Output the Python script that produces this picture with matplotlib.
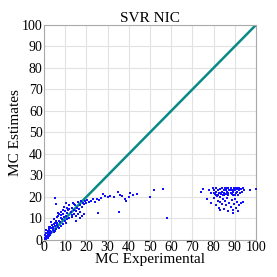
import matplotlib
matplotlib.use("Agg")
import matplotlib.pyplot as plt

# low range: estimates follow experimental values closely
low_x = [0.2, 0.3, 0.5, 0.6, 0.8, 1.0, 1.0, 1.0, 1.2, 1.5, 1.5, 1.8, 2.0, 2.0, 2.0,
         2.3, 2.5, 2.5, 2.8, 3.0, 3.0, 3.0, 3.2, 3.5, 3.5, 3.8, 4.0, 4.0, 4.3, 4.5,
         4.8, 5.0, 5.0, 5.2, 5.5, 5.5, 5.8, 6.0, 6.0, 6.3, 6.5, 6.8, 7.0, 7.0, 7.5,
         7.8, 8.0, 8.0, 8.5, 8.8, 9.0, 9.0, 9.5, 10.0, 10.0, 10.3, 10.5, 11.0, 11.0,
         11.5, 12.0, 12.0, 12.5, 13.0, 13.0, 13.5, 14.0, 14.0, 14.5, 15.0, 15.0,
         15.5, 16.0, 16.0, 16.5, 17.0, 17.0, 17.5, 18.0, 18.0, 18.5, 19.0, 19.0,
         19.5, 20.0, 20.5, 21.0, 22.0, 23.0, 24.0, 25.0, 25.5, 26.0, 27.0, 28.0,
         29.0, 30.0, 31.0, 33.0, 35.0, 35.5, 36.0, 37.0, 38.0, 38.5, 40.0, 40.5,
         42.0, 44.0, 50.0, 52.0, 56.0, 58.0, 0.5, 1.0, 2.5, 3.5, 4.5, 6.5, 9.5,
         12.0, 14.0, 16.0, 11.0, 13.0, 15.0, 17.0, 8.0, 10.5, 5.0, 7.0]
low_y = [0.2, 0.5, 1.0, 0.8, 0.3, 2.0, 0.5, 3.0, 1.5, 3.0, 1.8, 2.2, 1.0, 4.0, 3.5,
         3.0, 5.0, 2.0, 2.5, 6.0, 4.0, 2.8, 3.5, 5.5, 3.2, 7.0, 4.5, 6.0, 5.0, 7.5,
         3.8, 6.5, 8.0, 19.5, 5.0, 9.0, 16.5, 7.0, 10.5, 8.0, 11.0, 6.0, 9.0, 12.0,
         8.5, 10.0, 11.5, 13.0, 9.5, 7.5, 12.0, 14.0, 10.5, 9.0, 13.5, 17.0, 11.0,
         15.0, 12.5, 14.0, 10.0, 16.0, 13.0, 15.0, 11.5, 17.0, 14.0, 12.0, 16.0,
         13.5, 9.0, 15.0, 17.5, 12.0, 14.5, 16.0, 10.0, 18.0, 15.5, 11.0, 17.0,
         16.5, 12.0, 18.0, 17.0, 18.5, 17.5, 18.0, 19.0, 17.5, 19.0, 12.5, 18.5,
         19.5, 21.5, 20.5, 20.0, 20.5, 20.0, 22.5, 13.0, 21.0, 20.5, 19.0, 18.0,
         20.0, 22.0, 21.0, 21.5, 20.0, 23.0, 23.5, 10.0, 2.5, 4.5, 6.0, 8.5, 9.5,
         12.5, 15.5, 14.5, 16.5, 17.5, 9.5, 10.5, 11.0, 13.0, 6.5, 8.0, 4.0, 5.5]

# high range: estimates saturate around 20-24
high_x = [78, 79, 79.5, 80, 80.5, 81, 81, 81.5, 82, 82, 82.5, 83, 83, 83.5, 84, 84,
          84.5, 85, 85, 85.5, 86, 86, 86.5, 87, 87, 87.5, 88, 88, 88.5, 89, 89,
          89.5, 90, 90, 90.5, 91, 91, 91.5, 92, 92, 92.5, 93, 93.5, 94, 94.5, 80,
          81, 83, 85, 87, 89, 91, 86, 88, 90, 79, 80, 81, 82, 82.5, 83, 84, 84.5,
          85, 85.5, 86, 86.5, 87, 87.5, 88, 88.5, 89, 89.5, 90, 90.5, 91, 91.5,
          92, 93, 94, 89, 83, 74, 75, 77, 97, 100]
high_y = [23, 22, 24, 23, 21.5, 22.5, 24, 20.5, 23, 21, 22, 23.5, 20, 21.5, 22.5,
          24, 21, 23, 22, 24, 21.5, 23, 22.5, 24, 21, 23, 22, 24, 21.5, 23, 22.5,
          24, 21, 23, 22, 24, 22.5, 21, 23, 24, 22, 23.5, 22.5, 24, 23, 22, 21,
          22, 21, 22, 21, 23.5, 24, 23, 24, 17, 19.5, 16, 18, 15, 17.5, 16.5, 19,
          14.5, 18, 16, 19.5, 13.5, 17, 15.5, 18.5, 14, 16.5, 19, 15, 17.5, 13.5,
          16, 17, 17.5, 12.5, 14, 22.5, 23.5, 19, 23, 23.5]

ticks = list(range(0, 101, 10))

fig = plt.figure(figsize=(2.77, 2.77), dpi=100)
ax = fig.add_axes([0.159, 0.134, 0.765, 0.776])

ax.plot([0, 100], [0, 100], color="#0a8a86", linewidth=1.8, zorder=2)
ax.scatter(low_x + high_x, low_y + high_y, marker="s", s=4, color="#1010ff",
           linewidths=0, zorder=3)

ax.set_xlim(0, 100)
ax.set_ylim(0, 100)
ax.set_xticks(ticks)
ax.set_yticks(ticks)
ax.tick_params(length=0, pad=1, labelsize=10)
for lab in ax.get_xticklabels() + ax.get_yticklabels():
    lab.set_family(["Liberation Serif"])
ax.grid(True, color="#e2e2e2", linewidth=0.8, zorder=0)
ax.set_axisbelow(True)
for sp in ax.spines.values():
    sp.set_color("#aaaaaa")
    sp.set_linewidth(0.8)

ax.set_title("SVR NIC", family="Liberation Serif", fontsize=11, pad=1)
ax.set_xlabel("MC Experimental", family="Liberation Serif", fontsize=11, labelpad=-1)
ax.set_ylabel("MC Estimates", family="Liberation Serif", fontsize=11, labelpad=0)

fig.savefig("out.png", dpi=100)
